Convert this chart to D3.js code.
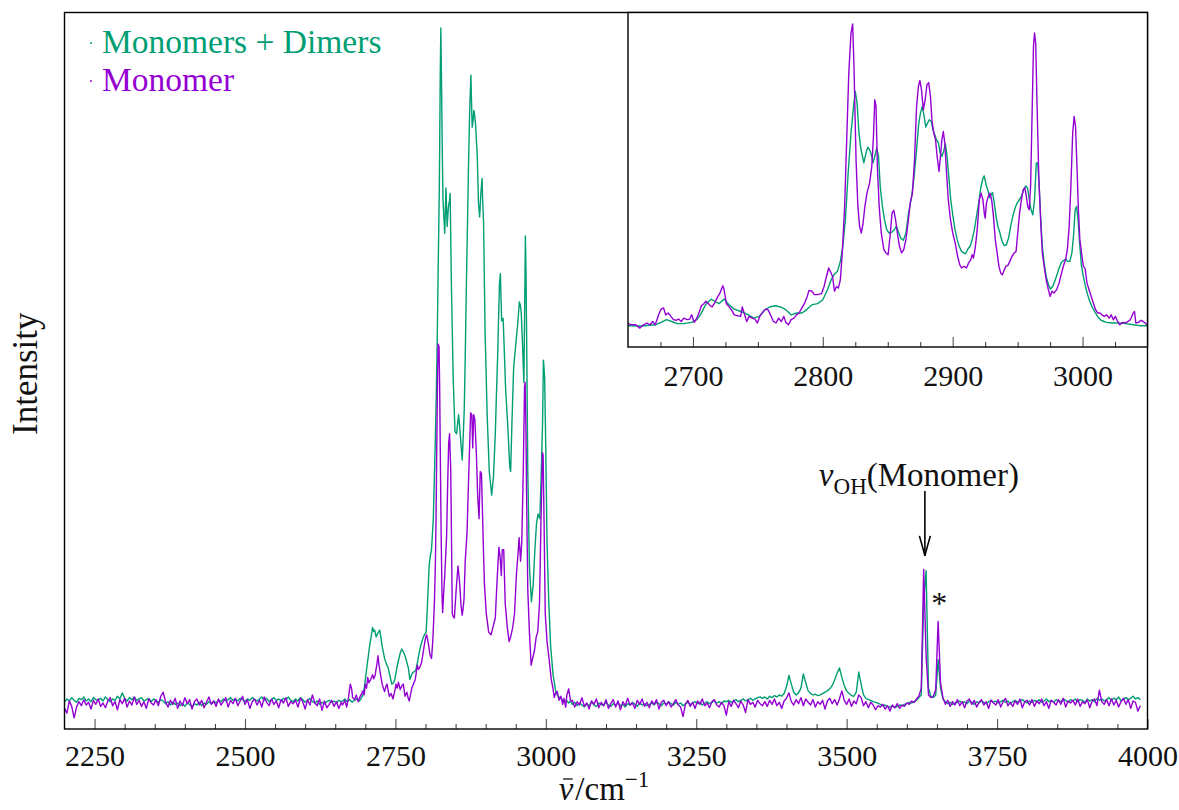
<!DOCTYPE html>
<html>
<head>
<meta charset="utf-8">
<script src="https://cdn.jsdelivr.net/npm/d3@7"></script>
<style>
  body { margin: 0; background: #fff; }
  text { font-family: "Liberation Serif", "DejaVu Serif", serif; fill: #111; }
</style>
</head>
<body>
<svg id="chart" width="1179" height="810"></svg>
<script>
// ---------- spectra (intensity in arbitrary units, 1000 = strongest band) ----------
const seriesNames = ["Monomers + Dimers", "Monomer"];
const seriesColors = ["#009E73", "#9400D3"];

// baseline noise, 2200–2660 cm-1, sampled every 4 cm-1
const gridStep = 4;
const leftStart = 2200;
const dimerLeft = [
  2,6,3,8,4,1,7,5,9,3,6,2,8,5,4,7,
  3,9,5,2,6,4,10,6,15,7,3,8,5,9,4,6,
  8,3,5,7,2,6,4,1,5,3,-1,2,-3,1,-2,0,
  -4,-1,-5,0,-2,-6,-1,-3,1,-4,0,-2,2,-1,3,0,
  4,2,6,3,5,8,4,6,3,7,5,2,6,4,8,5,
  3,6,9,4,7,2,5,8,4,6,3,7,5,9,4,2,
  6,3,8,5,1,4,7,2,0,3,-2,1,-1,2,4,1,
  3,0,4,2
];
const monomerLeft = [
  -8,-15,3,-5,-22,-6,2,-4,5,-3,1,-9,4,-2,6,-5,
  0,-7,3,8,-4,2,-10,5,-1,7,-6,3,-3,9,-2,4,
  -5,2,-8,6,0,-3,5,-4,10,16,2,-6,4,-2,7,-8,
  3,-4,8,-1,5,-9,2,6,-3,4,-7,1,9,-2,3,-5,
  6,-3,2,8,-6,4,-1,7,-4,3,10,-2,5,-8,2,6,
  -3,4,-6,9,1,-4,6,-2,3,-7,5,0,8,-5,2,-1,
  4,-6,7,2,-9,5,-3,12,0,-4,6,-11,3,-7,-2,4,
  -5,2,-8,1
];

// CH-stretch band, 2662–3041 cm-1, [wavenumber, intensity]
const dimerBand = [
  [2662,3],[2666,6],[2670,2],[2674,5],[2678,1],[2682,4],[2686,6],[2690,3],[2694,8],[2697,15],
  [2699,28],[2702,49],[2705,70],[2707,84],[2710,100],[2712,112],[2714,106],[2715.5,108],[2718,98],[2721,104],
  [2724,108],[2726,96],[2728,84],[2732,66],[2735,58],[2738,52],[2741,40],[2744,28],[2747,30],[2749,35],
  [2752,50],[2755,63],[2758,74],[2760.6,80],[2763,76],[2766,70],[2769,60],[2771.5,52],[2774,35],[2777,42],
  [2779,45],[2782,47],[2784,49],[2787,62],[2790,77],[2793,88],[2796.5,98],[2799,102],[2801,105],[2803,140],
  [2806,203],[2808,218],[2810,227],[2813,273],[2816,378],[2818,460],[2819.5,539],[2821,640],[2823,763],[2824.5,930],
  [2825.5,1000],[2826.5,930],[2827.7,832],[2829,748],[2830.5,720],[2832,696],[2834,763],[2836,706],[2838,734],[2840,745],
  [2841,755],[2843,622],[2846,483],[2849,402],[2851.7,399],[2853.5,415],[2855,427],[2856.5,412],[2858,395],[2861,360],
  [2862.5,390],[2864.4,434],[2866,510],[2868,622],[2870,720],[2871.5,797],[2873.5,880],[2875.5,930],[2876.5,890],[2877.6,853],
  [2879,862],[2880.4,878],[2881.5,872],[2883,860],[2886,811],[2888,741],[2890,720],[2892,755],[2894,777],[2895,745],
  [2896.5,713],[2899,552],[2902.5,427],[2906,343],[2910,308],[2913,336],[2916,399],[2918,460],[2920,517],[2922,590],
  [2923,622],[2924.5,636],[2925.5,600],[2926.6,566],[2929,570],[2930.6,531],[2933,469],[2937,406],[2940,350],[2941.5,343],
  [2943.6,413],[2946.5,497],[2950,531],[2953,559],[2956,594],[2957.5,590],[2959,580],[2961,538],[2963.5,475],[2965,600],
  [2966,692],[2967,640],[2968,552],[2970,343],[2972.7,203],[2976,150],[2979,175],[2981.6,224],[2984.5,266],[2987,280],
  [2990,273],[2992,329],[2994.5,413],[2996,508],[2998,483],[3000,371],[3002,238],[3005,147],[3008,84],[3012,42],
  [3016.5,17],[3020,10],[3025,7],[3030,2],[3034,4],[3038,0],[3041,3]
];
const monomerBand = [
  [2662,-3],[2666,4],[2669,-6],[2672,8],[2675,28],[2677,22],[2679,8],[2682,5],[2685,12],[2688,2],
  [2691,9],[2694,14],[2696,18],[2698,12],[2700,28],[2702,22],[2704,38],[2706,30],[2709,35],[2712,42],
  [2714,36],[2716,40],[2719,56],[2721,70],[2722.5,58],[2724,49],[2726,38],[2728,28],[2730,22],[2732,17],
  [2734,24],[2736,28],[2738,18],[2740,10],[2743,14],[2746,6],[2749,18],[2751,28],[2753,22],[2755,31],
  [2758,20],[2761,26],[2763,28],[2766,10],[2769,16],[2771,8],[2773,3],[2775,12],[2777,21],[2780,28],
  [2783,35],[2785,48],[2786.5,56],[2788,50],[2790,52],[2793.5,60],[2796.5,77],[2799,91],[2800.5,98],[2802,101],
  [2803.5,94],[2805,87],[2807,74],[2808,70],[2810,66],[2812,91],[2813.5,120],[2815,154],[2816.5,210],[2817.5,273],
  [2819,400],[2820,480],[2821,532],[2822.5,528],[2823.5,470],[2824.5,380],[2826,250],[2827.5,160],[2828.5,134],[2830,160],
  [2832,189],[2835,245],[2837,330],[2838.5,385],[2840,399],[2842,343],[2843.5,220],[2844.5,133],[2846,128],[2848,126],
  [2851,168],[2854,203],[2855.5,190],[2857,175],[2859,145],[2861,130],[2862.5,140],[2864,154],[2866,210],[2869,252],
  [2872,343],[2874,400],[2875,430],[2877,427],[2878.5,378],[2880,427],[2882,420],[2884.5,371],[2886.7,308],[2889,273],
  [2891,343],[2893,340],[2895,273],[2896.5,220],[2898,175],[2901,133],[2905,105],[2909,101],[2912,112],[2916,126],
  [2919,182],[2922,231],[2924,217],[2926,189],[2927.6,227],[2930,227],[2932.5,147],[2936,112],[2939,91],[2941.5,98],
  [2945,112],[2948,133],[2951,189],[2954,224],[2955.6,245],[2958,210],[2960,238],[2962.5,343],[2964.6,469],[2965.6,475],
  [2967,400],[2968,308],[2970,168],[2972.7,105],[2975.6,56],[2978,66],[2981,77],[2984,98],[2986.5,105],[2989.5,147],
  [2992,273],[2994.5,371],[2995.5,367],[2997,273],[2999,133],[3002,91],[3005.7,63],[3009,35],[3012,21],[3014,8],
  [3016,14],[3019,17],[3022,4],[3025,10],[3028,-2],[3030,7],[3033,-6],[3035,12],[3038,21],[3041,3]
];

// 3044–3988 cm-1, sampled every 4 cm-1 (OH region)
const rightStart = 3044;
const dimerRight = [
  -2,1,-4,0,-3,-6,-1,-4,2,-3,-5,0,-2,-4,1,-3,
  -5,-1,-3,0,-4,-2,-6,-1,-3,1,-2,-5,0,-3,-1,-4,
  -2,0,-3,1,-1,-4,0,-2,2,-1,-3,1,-2,0,-4,-1,
  1,-2,0,2,-1,1,-3,0,2,-1,1,3,0,2,-1,3,
  2,4,1,3,5,2,4,6,3,5,7,4,6,8,9,7,
  9,6,10,8,11,9,12,10,14,24,41,28,16,12,15,22,
  43,30,18,14,12,13,11,12,14,16,18,21,26,34,44,52,
  38,26,18,14,11,10,16,46,28,12,7,5,4,2,1,0,
  -2,-4,-3,-5,-6,-4,-7,-5,-3,-4,-2,-1,1,0,2,4,
  8,12,150,196,22,10,8,12,64,22,6,2,-1,1,-2,0,
  1,3,0,2,-1,3,1,-2,2,0,3,1,-1,2,4,1,
  3,0,2,4,1,3,-1,2,4,1,3,5,2,0,3,1,
  4,2,5,1,3,6,2,4,1,5,3,2,6,4,1,5,
  3,6,2,5,4,1,6,3,5,2,7,4,6,3,5,8,
  4,7,5,9,3,6,8,5,7,10,6,8,5
];
const monomerRight = [
  4,-6,2,-3,8,-5,0,-9,3,-2,6,-7,1,-4,5,-8,
  -1,5,-6,3,-10,2,-4,7,-3,0,-8,4,-2,6,-5,1,
  -7,3,-2,5,-9,1,4,-4,2,-6,-1,5,-3,-6,-20,-2,
  4,-5,1,-8,3,-2,6,-4,0,-7,2,5,-3,-6,1,-4,
  -18,2,-5,4,-1,-7,3,-3,-14,5,-2,1,-6,4,-1,-4,
  2,-5,4,-2,6,-4,1,-8,3,7,15,2,-3,5,-1,8,
  -4,6,1,-3,5,-6,2,-2,4,-9,3,7,-1,5,-3,6,
  18,4,-2,6,-5,3,-1,12,8,-4,2,-7,1,-3,-10,-4,
  -6,-2,-9,-4,-12,-3,-7,-1,-8,-3,-5,0,-2,3,1,6,
  10,22,198,70,12,8,10,20,121,30,8,-2,4,-5,2,-3,
  5,-4,2,-7,3,6,-2,4,-6,1,5,-3,2,-8,4,0,
  -3,5,-6,2,7,-4,1,-5,3,-2,6,-7,2,4,-3,5,
  -5,3,-1,6,-4,2,-8,4,1,-3,5,-2,7,-6,3,0,
  4,-3,6,-5,2,-1,5,-7,3,6,-4,19,2,-2,5,-4,
  6,-3,4,-6,2,7,-2,5,-8,3,1,-12,-4
];

// CH-stretch band on its own scale (inset), [wavenumber, intensity]
const insetDimer = [
  [2650,1],[2660,0],[2671,4],[2675.5,12],[2679.6,21],[2683.7,15],[2688,8],[2693,8],[2699,12],[2703,21],
  [2705.7,37],[2709.8,71],[2714,89],[2716.7,82],[2720,74],[2724,89],[2727.6,71],[2731.8,56],[2737,48],[2742.7,37],
  [2746.8,26],[2751,32],[2755,52],[2759,63],[2763.3,67],[2767.4,63],[2771.5,54],[2775.6,37],[2779.8,43],[2784,43],
  [2788,56],[2792,71],[2796,74],[2800,87],[2803.6,120],[2806.4,153],[2808.6,170],[2811.3,181],[2813.5,214],[2815.4,264],
  [2817.4,352],[2819.5,506],[2821.7,639],[2823.7,727],[2825,777],[2826.4,738],[2827.8,639],[2829.4,584],[2830.5,562],[2831.6,540],
  [2833.3,573],[2834.6,592],[2836,584],[2837.4,567],[2838.7,540],[2840,562],[2841.5,589],[2842.9,562],[2844.2,462],[2845.9,396],
  [2847.5,352],[2849.2,319],[2851,308],[2853,310],[2855,319],[2856.7,330],[2858.5,308],[2860,291],[2862,284],[2864,308],
  [2866,374],[2868.4,429],[2870.3,495],[2872.2,584],[2873.9,672],[2875.2,705],[2876.6,727],[2878,694],[2879.3,659],[2880.7,672],
  [2882,683],[2883.5,677],[2884.8,650],[2886.2,633],[2887.5,617],[2889,606],[2890.3,573],[2891.7,562],[2893,578],[2894.4,603],
  [2895.7,562],[2897.2,484],[2898.5,418],[2900.2,363],[2901.8,319],[2903.5,286],[2905,264],[2906.8,247],[2908.4,242],[2910,239],
  [2911.7,255],[2913.4,264],[2915,286],[2916.7,319],[2918.3,363],[2920,407],[2921.6,457],[2923.3,490],[2924.3,497],[2925.7,468],
  [2927,451],[2928.5,424],[2929.6,435],[2930.7,442],[2932,407],[2933.4,363],[2934.8,330],[2936.4,308],[2938,280],[2939.7,266],
  [2941.4,269],[2943,291],[2944.6,330],[2946.3,363],[2948,390],[2949.6,407],[2951.3,418],[2952.9,429],[2954.6,451],[2956.2,464],
  [2957.6,457],[2959,418],[2960.3,385],[2961.7,368],[2963,418],[2964.4,540],[2965.5,540],[2966.6,462],[2967.7,363],[2969,264],
  [2970.4,209],[2972,164],[2973.7,137],[2975.3,122],[2977,131],[2978.6,148],[2980.3,170],[2982,192],[2983.6,209],[2985.3,217],
  [2987,222],[2988.5,214],[2990.2,214],[2991.8,242],[2993.2,308],[2994.3,385],[2995.4,396],[2996.5,352],[2997.9,264],[2999.2,198],
  [3000.6,164],[3002.2,131],[3003.9,104],[3005.5,82],[3007.4,63],[3009.3,48],[3011.5,32],[3014.2,19],[3018.4,12],[3022.5,10],
  [3028,10],[3033.5,8],[3039,4],[3044.5,1],[3050,1]
];
const insetMonomer = [
  [2650,10],[2652,4],[2656,4],[2659,-7],[2662,4],[2664.5,10],[2667,4],[2669,15],[2671,4],[2673.6,37],
  [2675.5,56],[2677.4,60],[2679,37],[2681,43],[2683,32],[2685,21],[2687,19],[2689,23],[2691,15],[2693,26],
  [2695.5,21],[2697.5,23],[2699,37],[2701,12],[2703,26],[2705,48],[2706.5,67],[2708.4,74],[2710,82],[2712.5,71],
  [2714.7,63],[2716.7,76],[2718.6,93],[2720.8,109],[2723,133],[2724,120],[2725.7,74],[2727.6,65],[2729.6,54],[2731.8,37],
  [2734.5,34],[2736.7,32],[2738,63],[2739.4,43],[2741.4,15],[2743.3,32],[2745.5,26],[2747.7,23],[2749.6,10],[2751.5,32],
  [2753.7,45],[2755.9,56],[2757.8,54],[2759.7,37],[2762,15],[2764,10],[2766,26],[2768,15],[2770,32],[2771.5,12],
  [2773.5,4],[2775.6,21],[2777.8,26],[2779.8,37],[2781.7,43],[2783.9,60],[2786,76],[2788,98],[2789.4,118],[2791.6,115],
  [2793.5,104],[2796,104],[2799,107],[2801,131],[2802.5,159],[2804.5,192],[2805.8,181],[2807.5,164],[2809,115],[2810.5,131],
  [2812,126],[2813.5,153],[2815,242],[2816.8,396],[2818.4,617],[2820,837],[2821.7,970],[2823,1000],[2824,859],[2825.6,550],
  [2827,396],[2828.3,330],[2829.7,308],[2831,341],[2832.4,396],[2834,440],[2836,473],[2837.7,528],[2839,628],[2840,749],
  [2841,727],[2842,528],[2843.4,396],[2845,308],[2847,253],[2848.6,242],[2850.3,236],[2852,308],[2853.3,374],[2854.7,383],
  [2856,352],[2857.4,308],[2859,264],[2860.7,242],[2862.3,253],[2864,286],[2865.6,341],[2867.3,407],[2869,440],[2870.6,550],
  [2872.2,727],[2873.6,793],[2874.7,813],[2876,782],[2877.4,716],[2878.8,749],[2880.2,799],[2881.5,806],[2882.9,760],[2884,683],
  [2885.4,639],[2886.8,617],[2888,562],[2889.5,512],[2890.6,562],[2891.7,617],[2892.8,644],[2893.9,606],[2895.3,506],[2896.6,418],
  [2898.3,352],[2900,308],[2901.9,275],[2903.8,231],[2905.4,203],[2906.8,192],[2908.7,198],[2910.6,192],[2912.3,209],[2914,220],
  [2915,236],[2916,225],[2917.5,264],[2918.9,319],[2920.5,418],[2921.9,440],[2923.3,418],[2924.3,374],[2925,357],[2926,407],
  [2927.4,429],[2928.7,440],[2930,418],[2931.4,363],[2932.8,286],[2934.2,242],[2935.6,198],[2937,175],[2938.3,170],[2939.7,186],
  [2941,198],[2942.4,200],[2944,214],[2945.7,231],[2947.4,242],[2948.8,247],[2950.1,308],[2951.5,374],[2952.9,418],[2954.3,451],
  [2955.6,457],[2956.7,429],[2957.8,396],[2958.9,385],[2960,462],[2961.1,694],[2962.2,926],[2963,970],[2963.9,937],[2965,727],
  [2966.3,495],[2967.7,352],[2969,242],[2970.4,198],[2972,153],[2973.7,120],[2975,98],[2976.5,115],[2978,109],[2980,120],
  [2981.9,142],[2983.5,170],[2985.2,198],[2986.9,220],[2988.3,253],[2989.7,330],[2991,462],[2992.4,639],[2993.5,694],[2994.6,661],
  [2995.7,528],[2996.8,385],[2997.9,286],[2999.2,242],[3000.6,198],[3002,189],[3003.4,142],[3005,120],[3006.7,98],[3008.3,76],
  [3010,54],[3011.7,43],[3013.4,43],[3015,37],[3016.7,32],[3018.5,37],[3020.5,26],[3022,37],[3023.7,21],[3025.3,32],
  [3027,15],[3028.6,4],[3030.8,12],[3033,10],[3035,15],[3036.8,21],[3039,43],[3040,48],[3041,10],[3043,12],
  [3045,19],[3046.7,15],[3048.6,8],[3050,4]
];

// axis ticks
const mainTicks = [2250, 2500, 2750, 3000, 3250, 3500, 3750, 4000];
const insetTicks = [2700, 2800, 2900, 3000];

// annotated bands
const ohBand = 3630;        // free OH stretch of the monomer
const satelliteBand = 3654; // starred band

// ---------- assemble full spectra ----------
function gridPoints(start, values) {
  return values.map((v, i) => [start + i * gridStep, v]);
}
const mainSpectra = [
  gridPoints(leftStart, dimerLeft).concat(dimerBand, gridPoints(rightStart, dimerRight)),
  gridPoints(leftStart, monomerLeft).concat(monomerBand, gridPoints(rightStart, monomerRight))
];
const insetSpectra = [insetDimer, insetMonomer];

// ---------- layout ----------
const svg = d3.select("#chart");
const main = { left: 64.5, right: 1147.5, top: 12.5, bottom: 729 };
const inset = { left: 628, right: 1147.5, top: 12.5, bottom: 347 };

const x = d3.scaleLinear().domain([2200, 4000]).range([main.left, main.right]);
const y = d3.scaleLinear().domain([-38.5, 1023]).range([main.bottom, main.top]);
const xi = d3.scaleLinear().domain([2650, 3050]).range([inset.left, inset.right]);
const yi = d3.scaleLinear().domain([-69.5, 1038]).range([inset.bottom, inset.top]);

svg.append("defs").append("clipPath").attr("id", "mainClip")
  .append("rect").attr("x", main.left).attr("y", main.top)
  .attr("width", main.right - main.left).attr("height", main.bottom - main.top);
svg.select("defs").append("clipPath").attr("id", "insetClip")
  .append("rect").attr("x", inset.left).attr("y", inset.top)
  .attr("width", inset.right - inset.left).attr("height", inset.bottom - inset.top);

// main spectra
const mainLine = d3.line().x(d => x(d[0])).y(d => y(d[1]));
const gMain = svg.append("g").attr("clip-path", "url(#mainClip)");
mainSpectra.forEach((s, i) => {
  gMain.append("path").datum(s)
    .attr("d", mainLine)
    .attr("fill", "none")
    .attr("stroke", seriesColors[i])
    .attr("stroke-width", 1.4)
    .attr("stroke-linejoin", "round");
});

// main axis: major and minor ticks pointing inward
const mainAxis = d3.axisBottom(x).tickValues(mainTicks).tickSizeInner(-10).tickSizeOuter(0)
  .tickPadding(16).tickFormat(d3.format("d"));
const gAx = svg.append("g").attr("transform", `translate(0,${main.bottom})`).call(mainAxis);
gAx.select(".domain").remove();
gAx.selectAll(".tick line").attr("stroke", "#555").attr("stroke-width", 1.1);
gAx.selectAll(".tick text").style("font-size", "30px").attr("fill", "#111");

const mainMinor = d3.range(2300, 4000, 50).filter(v => v % 250 !== 0);
const gMinor = svg.append("g").attr("transform", `translate(0,${main.bottom})`)
  .call(d3.axisBottom(x).tickValues(mainMinor).tickSizeInner(-5).tickSizeOuter(0).tickFormat(""));
gMinor.select(".domain").remove();
gMinor.selectAll(".tick line").attr("stroke", "#333").attr("stroke-width", 1);

// main frame
svg.append("rect").attr("x", main.left).attr("y", main.top)
  .attr("width", main.right - main.left).attr("height", main.bottom - main.top)
  .attr("fill", "none").attr("stroke", "#000").attr("stroke-width", 1.4);

// axis titles
svg.append("text")
  .attr("transform", `translate(37,${(main.top + main.bottom) / 2 + 3}) rotate(-90)`)
  .attr("text-anchor", "middle")
  .style("font-size", "35px")
  .text("Intensity");

const xTitle = svg.append("text")
  .attr("x", (main.left + main.right) / 2 - 2).attr("y", 800)
  .attr("text-anchor", "middle")
  .style("font-size", "33px");
xTitle.append("tspan").style("font-style", "italic").text("\u03BD");
xTitle.append("tspan").attr("dx", 2).text("/cm");
xTitle.append("tspan").attr("dy", -13).style("font-size", "23px").text("\u22121");
// bar over the wavenumber symbol
const nuBox = xTitle.node().getExtentOfChar(0);
svg.append("line")
  .attr("x1", nuBox.x + nuBox.width * 0.3).attr("x2", nuBox.x + nuBox.width * 0.95)
  .attr("y1", 779).attr("y2", 779)
  .attr("stroke", "#111").attr("stroke-width", 1.3);

// legend
seriesNames.forEach((name, i) => {
  const yy = 53 + i * 38;
  svg.append("line")
    .attr("x1", 90).attr("x2", 92).attr("y1", yy - 10).attr("y2", yy - 10)
    .attr("stroke", seriesColors[i]).attr("stroke-width", 1.4);
  svg.append("text").attr("x", 102).attr("y", yy)
    .style("font-size", "33.5px").style("fill", seriesColors[i]).text(name);
});

// OH annotation
const ohLabel = svg.append("text")
  .attr("x", x(ohBand) - 6).attr("y", y(322))
  .attr("text-anchor", "middle")
  .style("font-size", "33px");
ohLabel.append("tspan").style("font-style", "italic").text("\u03BD");
ohLabel.append("tspan").attr("dy", 8).style("font-size", "23px").text("OH");
ohLabel.append("tspan").attr("dy", -8).text("(Monomer)");

const ax = x(ohBand), ayTop = y(314), ayBot = y(218);
svg.append("line").attr("x1", ax).attr("x2", ax).attr("y1", ayTop).attr("y2", ayBot)
  .attr("stroke", "#000").attr("stroke-width", 1.6);
svg.append("path")
  .attr("d", `M${ax - 5.5},${ayBot - 20} Q${ax - 2},${ayBot - 8} ${ax},${ayBot} Q${ax + 2},${ayBot - 8} ${ax + 5.5},${ayBot - 20}`)
  .attr("fill", "none").attr("stroke", "#000").attr("stroke-width", 1.6);

svg.append("text")
  .attr("x", x(satelliteBand)).attr("y", y(132))
  .attr("text-anchor", "middle")
  .style("font-size", "32px")
  .text("*");

// ---------- inset ----------
svg.append("rect").attr("x", inset.left).attr("y", inset.top)
  .attr("width", inset.right - inset.left).attr("height", inset.bottom - inset.top)
  .attr("fill", "#fff");

const insetLine = d3.line().x(d => xi(d[0])).y(d => yi(d[1]));
const gInset = svg.append("g").attr("clip-path", "url(#insetClip)");
insetSpectra.forEach((s, i) => {
  gInset.append("path").datum(s)
    .attr("d", insetLine)
    .attr("fill", "none")
    .attr("stroke", seriesColors[i])
    .attr("stroke-width", 1.4)
    .attr("stroke-linejoin", "round");
});

const insetAxis = d3.axisBottom(xi).tickValues(insetTicks).tickSizeInner(-10).tickSizeOuter(0)
  .tickPadding(18).tickFormat(d3.format("d"));
const gIx = svg.append("g").attr("transform", `translate(0,${inset.bottom})`).call(insetAxis);
gIx.select(".domain").remove();
gIx.selectAll(".tick line").attr("stroke", "#555").attr("stroke-width", 1.1);
gIx.selectAll(".tick text").style("font-size", "30px").attr("fill", "#111");

const insetMinor = d3.range(2675, 3050, 25).filter(v => v % 100 !== 0);
const gIm = svg.append("g").attr("transform", `translate(0,${inset.bottom})`)
  .call(d3.axisBottom(xi).tickValues(insetMinor).tickSizeInner(-5).tickSizeOuter(0).tickFormat(""));
gIm.select(".domain").remove();
gIm.selectAll(".tick line").attr("stroke", "#333").attr("stroke-width", 1);

svg.append("rect").attr("x", inset.left).attr("y", inset.top)
  .attr("width", inset.right - inset.left).attr("height", inset.bottom - inset.top)
  .attr("fill", "none").attr("stroke", "#000").attr("stroke-width", 1.4);
</script>
</body>
</html>
